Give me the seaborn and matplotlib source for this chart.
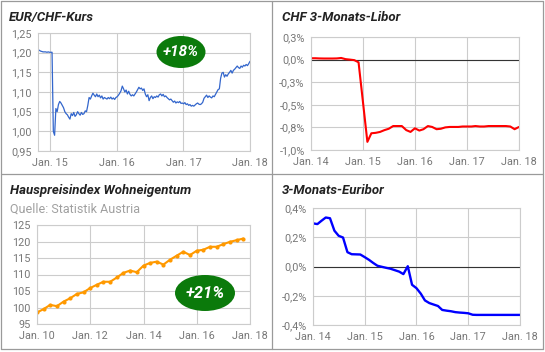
import numpy as np
import pandas as pd
import matplotlib
matplotlib.use('Agg')
import matplotlib.pyplot as plt
import matplotlib.dates as mdates
from matplotlib.patches import Ellipse
from matplotlib.lines import Line2D
import seaborn as sns

sns.set_style("white")
plt.rcParams['font.family'] = ['Roboto', 'DejaVu Sans']

# ------------------------------------------------------------------
# Daten
# ------------------------------------------------------------------
# EUR/CHF, woechentlich ab 27.10.2014
eurchf_2014 = [1.208, 1.206, 1.204, 1.203, 1.202, 1.202, 1.202, 1.201, 1.202, 1.201]
eurchf_2015 = [1.201, 1.201, 1.000, 0.990,
               1.058, 1.050, 1.068, 1.076,
               1.072, 1.066, 1.060, 1.050, 1.045,
               1.042, 1.036, 1.031, 1.045,
               1.040, 1.048, 1.038, 1.042,
               1.050, 1.045, 1.041, 1.048, 1.043,
               1.045, 1.052, 1.050, 1.066,
               1.086, 1.082, 1.090, 1.097, 1.092,
               1.088, 1.095, 1.088, 1.092,
               1.085, 1.090, 1.082, 1.086,
               1.084, 1.082, 1.086, 1.083, 1.087,
               1.082, 1.085, 1.081, 1.086]
eurchf_2016 = [1.088, 1.092, 1.097, 1.103,
               1.115, 1.108, 1.100, 1.105, 1.095,
               1.102, 1.094, 1.090, 1.093,
               1.090, 1.095, 1.100, 1.106,
               1.112, 1.108, 1.110, 1.104, 1.108,
               1.095, 1.088, 1.093, 1.078,
               1.086, 1.090, 1.083, 1.088,
               1.086, 1.090, 1.087, 1.093, 1.095,
               1.090, 1.094, 1.088, 1.090,
               1.086, 1.083, 1.080, 1.082, 1.078,
               1.074, 1.077, 1.072, 1.075,
               1.073, 1.076, 1.071, 1.072]
eurchf_2017 = [1.070, 1.073, 1.068, 1.070, 1.066,
               1.068, 1.064, 1.066, 1.064,
               1.067, 1.070, 1.072, 1.069,
               1.068, 1.070, 1.074, 1.084,
               1.088, 1.092, 1.086, 1.090, 1.087,
               1.085, 1.090, 1.088, 1.094,
               1.100, 1.106, 1.108, 1.135, 1.148,
               1.150, 1.138, 1.144, 1.140,
               1.146, 1.150, 1.155, 1.148,
               1.155, 1.158, 1.162, 1.166, 1.162,
               1.160, 1.166, 1.163, 1.168,
               1.166, 1.170, 1.167, 1.172]
eurchf_2018 = [1.178]
eurchf = eurchf_2014 + eurchf_2015 + eurchf_2016 + eurchf_2017 + eurchf_2018
eurchf_dates = pd.date_range('2014-10-27', periods=len(eurchf), freq='W-MON')

# CHF 3-Monats-Libor in %, monatlich (Jan. 2015 fehlt: Sprung)
libor_dates = pd.date_range('2014-01-01', '2014-12-01', freq='MS').append(
    pd.date_range('2015-02-01', '2018-01-01', freq='MS'))
libor = [0.015, 0.015, 0.013, 0.012, 0.012, 0.012, 0.013, 0.018, 0.005, 0.000, -0.006, -0.030,
         -0.910, -0.815, -0.810, -0.800, -0.780, -0.765, -0.735, -0.735, -0.735, -0.780, -0.800,
         -0.760, -0.785, -0.770, -0.735, -0.745, -0.770, -0.765, -0.750, -0.745, -0.745, -0.745,
         -0.740, -0.740, -0.740, -0.735, -0.740, -0.740, -0.735, -0.735, -0.735, -0.735, -0.735,
         -0.740, -0.770, -0.745]

# Hauspreisindex Wohneigentum, quartalsweise ab Q1 2010
hpi_dates = pd.date_range('2010-01-01', periods=32, freq='QS')
hpi = [98.5, 99.5, 100.8, 100.4, 101.8, 102.8, 104.1, 104.6,
       105.9, 106.9, 107.8, 107.8, 109.1, 110.5, 111.2, 110.7,
       112.7, 113.5, 113.9, 113.0, 114.5, 115.7, 116.9, 115.9,
       117.2, 117.5, 118.4, 118.4, 119.2, 119.9, 120.4, 120.9]

# 3-Monats-Euribor in %, monatlich ab Jan. 2014
euribor_dates = pd.date_range('2014-01-01', '2018-01-01', freq='MS')
euribor = [0.295, 0.290, 0.312, 0.335, 0.330, 0.245, 0.210, 0.198, 0.098, 0.084, 0.083, 0.082,
           0.064, 0.045, 0.025, 0.005, -0.002, -0.009, -0.015, -0.025, -0.035, -0.052, 0.002, -0.125,
           -0.148, -0.186, -0.232, -0.250, -0.260, -0.270, -0.297, -0.302, -0.306, -0.312, -0.315, -0.317,
           -0.320, -0.330, -0.331, -0.331, -0.331, -0.331, -0.331, -0.331, -0.331, -0.331, -0.331, -0.331,
           -0.331]

# Achsenbeschriftungen
eurchf_xticks = ['2015-01-01', '2016-01-01', '2017-01-01', '2018-01-01']
eurchf_xlabels = ['Jan. 15', 'Jan. 16', 'Jan. 17', 'Jan. 18']
eurchf_yticks = [0.95, 1.00, 1.05, 1.10, 1.15, 1.20, 1.25]
eurchf_ylabels = ['0,95', '1,00', '1,05', '1,10', '1,15', '1,20', '1,25']

rate_xticks = ['2014-01-01', '2015-01-01', '2016-01-01', '2017-01-01', '2018-01-01']
rate_xlabels = ['Jan. 14', 'Jan. 15', 'Jan. 16', 'Jan. 17', 'Jan. 18']
libor_yticks = [-1.0, -0.75, -0.5, -0.25, 0.0, 0.25]
libor_ylabels = ['-1,0%', '-0,8%', '-0,5%', '-0,3%', '0,0%', '0,3%']
euribor_yticks = [-0.4, -0.2, 0.0, 0.2, 0.4]
euribor_ylabels = ['-0,4%', '-0,2%', '0,0%', '0,2%', '0,4%']

hpi_xticks = ['2010-01-01', '2012-01-01', '2014-01-01', '2016-01-01', '2018-01-01']
hpi_xlabels = ['Jan. 10', 'Jan. 12', 'Jan. 14', 'Jan. 16', 'Jan. 18']
hpi_yticks = [95, 100, 105, 110, 115, 120, 125]
hpi_ylabels = ['95', '100', '105', '110', '115', '120', '125']

# ------------------------------------------------------------------
# Layout (Pixel-Koordinaten)
# ------------------------------------------------------------------
W, H = 545, 352
fig = plt.figure(figsize=(W / 100, H / 100), dpi=100)
fig.patch.set_facecolor('white')

GRID = '#cccccc'
TICK = '#777777'
GREEN = '#0b7a0b'


def fx(x):
    return x / W


def fy(y):
    return 1 - y / H


def px_axes(l, t, r, b):
    return fig.add_axes([l / W, 1 - b / H, (r - l) / W, (b - t) / H])


def style(ax, xticks, xlabels, yticks, ylabels, xlim, zero_line=False):
    xt = [mdates.date2num(pd.Timestamp(d)) for d in xticks]
    ax.set_xticks(xt)
    ax.set_xticklabels(xlabels)
    ax.set_yticks(yticks)
    ax.set_yticklabels(ylabels)
    ax.set_xlim(mdates.date2num(pd.Timestamp(xlim[0])), mdates.date2num(pd.Timestamp(xlim[1])))
    ax.set_ylim(yticks[0], yticks[-1])
    ax.grid(True, color=GRID, lw=0.8)
    ax.set_axisbelow(True)
    for s in ax.spines.values():
        s.set_color(GRID)
        s.set_linewidth(0.8)
    ax.tick_params(length=0, labelsize=7.8, labelcolor=TICK)
    ax.tick_params(axis='x', pad=5)
    ax.tick_params(axis='y', pad=4.5)
    ax.set_xlabel('')
    ax.set_ylabel('')
    if zero_line:
        ax.axhline(0, color='#333333', lw=0.8, zorder=1)


def title(x, y, text):
    fig.text(fx(x), fy(y), text, fontsize=9.5, fontweight='bold', fontstyle='italic',
             color='#222222', ha='left', va='baseline')


def badge(cx, cy, w, h, text, size):
    fig.add_artist(Ellipse((fx(cx), fy(cy)), w / W, h / H, transform=fig.transFigure,
                           facecolor=GREEN, edgecolor='none', zorder=5))
    fig.text(fx(cx), fy(cy), text, fontsize=size, fontweight='bold', fontstyle='italic',
             color='white', ha='center', va='center', zorder=6)


# 1) EUR/CHF-Kurs
ax1 = px_axes(38, 33, 250, 151)
sns.lineplot(x=eurchf_dates, y=eurchf, ax=ax1, color='#3366cc', lw=0.9)
style(ax1, eurchf_xticks, eurchf_xlabels, eurchf_yticks, eurchf_ylabels,
      (eurchf_dates[0], '2018-01-01'))
title(9, 21, 'EUR/CHF-Kurs')
badge(181, 52, 49, 32, '+18%', 11)

# 2) CHF 3-Monats-Libor
ax2 = px_axes(311, 37, 519, 150)
sns.lineplot(x=libor_dates, y=libor, ax=ax2, color='#ff0000', lw=1.5)
style(ax2, rate_xticks, rate_xlabels, libor_yticks, libor_ylabels,
      ('2014-01-01', '2018-01-01'), zero_line=True)
title(282, 21, 'CHF 3-Monats-Libor')

# 3) Hauspreisindex
ax3 = px_axes(37, 225, 250, 324)
sns.lineplot(x=hpi_dates, y=hpi, ax=ax3, color='#ff9900', lw=1.5,
             marker='o', markersize=3, markeredgewidth=0)
style(ax3, hpi_xticks, hpi_xlabels, hpi_yticks, hpi_ylabels,
      ('2010-01-01', '2018-01-01'))
title(10, 194, 'Hauspreisindex Wohneigentum')
fig.text(fx(10), fy(212.5), 'Quelle: Statistik Austria', fontsize=9, color='#a0a0a0',
         ha='left', va='baseline')
badge(205, 293, 60, 36, '+21%', 12)

# 4) 3-Monats-Euribor
ax4 = px_axes(313, 208, 520, 325)
sns.lineplot(x=euribor_dates, y=euribor, ax=ax4, color='#0000ff', lw=1.7)
style(ax4, rate_xticks, rate_xlabels, euribor_yticks, euribor_ylabels,
      ('2014-01-01', '2018-01-01'), zero_line=True)
title(282, 194, '3-Monats-Euribor')

# Rahmen und Trennlinien
BORDER = '#9a9a9a'
for (x0, y0, x1, y1) in [(1, 1, 543, 1), (1, 349, 543, 349), (1, 1, 1, 349), (543, 1, 543, 349),
                         (272, 1, 272, 349), (1, 174, 543, 174)]:
    fig.add_artist(Line2D([fx(x0), fx(x1)], [fy(y0), fy(y1)], transform=fig.transFigure,
                          color=BORDER, lw=0.9))

plt.savefig('out.png', dpi=100)
plt.close()
